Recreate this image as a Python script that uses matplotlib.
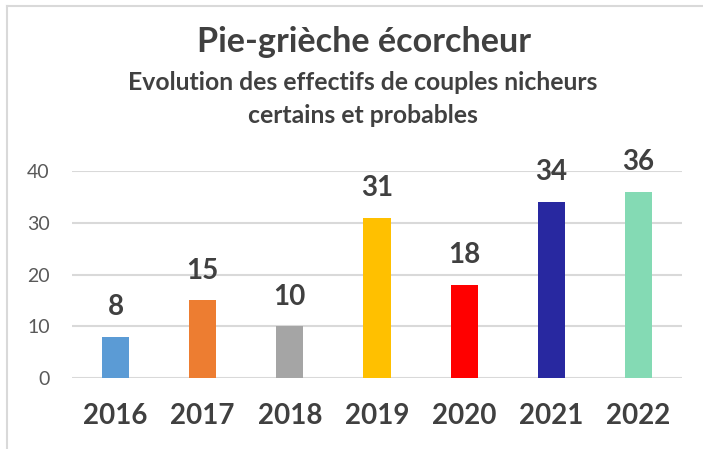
import matplotlib.pyplot as plt
from matplotlib.lines import Line2D

years = ['2016', '2017', '2018', '2019', '2020', '2021', '2022']
couples = [8, 15, 10, 31, 18, 34, 36]
bar_colors = ['#5B9BD5', '#ED7D31', '#A5A5A5', '#FFC000', '#FF0000', '#2828A0', '#84DAB4']

plt.rcParams['font.family'] = ['Lato', 'DejaVu Sans']
txt = '#404040'

fig = plt.figure(figsize=(7.03, 4.49), dpi=100)
ax = fig.add_axes([72 / 703, 1 - 378 / 449, 610 / 703, 207 / 449])

x = range(len(years))
ax.bar(x, couples, width=0.31, color=bar_colors, zorder=3)
for i, v in enumerate(couples):
    ax.annotate(str(v), (i, v), xytext=(0, 12), textcoords='offset points',
                ha='center', va='bottom', fontsize=20, fontweight='bold',
                color=txt, clip_on=False)

ax.set_xlim(-0.5, len(years) - 0.5)
ax.set_ylim(0, 40)
ax.set_yticks([0, 10, 20, 30, 40])
ax.set_xticks(list(x))
ax.set_xticklabels(years, fontsize=20, fontweight='bold', color=txt)
ax.tick_params(axis='x', length=0, pad=18)
ax.tick_params(axis='y', length=0, pad=16, labelsize=14, labelcolor='#595959')
ax.grid(axis='y', color='#D9D9D9', linewidth=1.5, zorder=0)
for s in ax.spines.values():
    s.set_visible(False)

fig.text(0.518, 1 - 52 / 449, 'Pie-grièche écorcheur', ha='center', va='baseline',
         fontsize=24.6, fontweight='bold', color=txt)
fig.text(0.5157, 1 - 90 / 449, 'Evolution des effectifs de couples nicheurs',
         ha='center', va='baseline', fontsize=17.8, fontweight='bold', color=txt)
fig.text(0.5157, 1 - 123 / 449, 'certains et probables',
         ha='center', va='baseline', fontsize=17.8, fontweight='bold', color=txt)

# chart frame (top and left edges)
fig.add_artist(Line2D([7 / 703, 1], [1 - 6 / 449, 1 - 6 / 449], color='#D9D9D9', lw=1.5))
fig.add_artist(Line2D([7 / 703, 7 / 703], [0, 1 - 6 / 449], color='#D9D9D9', lw=1.5))

fig.savefig('out.png', dpi=100)
